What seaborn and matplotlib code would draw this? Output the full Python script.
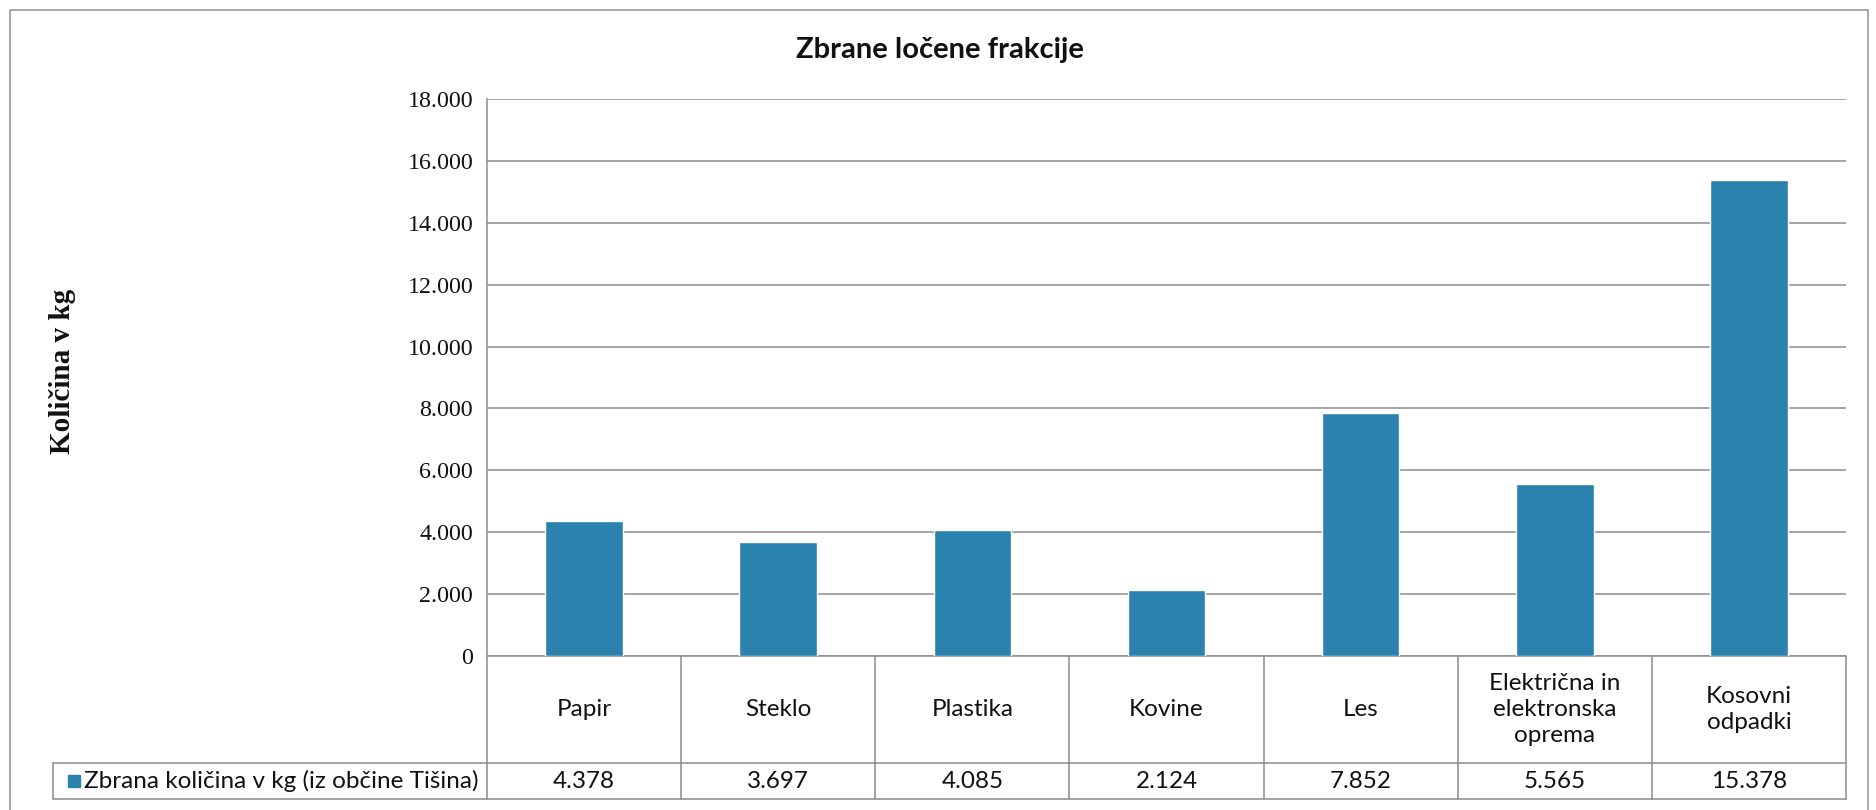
import matplotlib
matplotlib.use("Agg")
import matplotlib.pyplot as plt
import matplotlib.transforms as mtransforms
from matplotlib.patches import Rectangle
import seaborn as sns
import pandas as pd

categories = ["Papir", "Steklo", "Plastika", "Kovine", "Les",
              "Električna in\nelektronska\noprema", "Kosovni\nodpadki"]
values = [4378, 3697, 4085, 2124, 7852, 5565, 15378]
value_labels = ["4.378", "3.697", "4.085", "2.124", "7.852", "5.565", "15.378"]
yticks = [0, 2000, 4000, 6000, 8000, 10000, 12000, 14000, 16000, 18000]
ytick_labels = ["0", "2.000", "4.000", "6.000", "8.000", "10.000", "12.000",
                "14.000", "16.000", "18.000"]
title = "Zbrane ločene frakcije"
ylabel = "Količina v kg"
series_name = "Zbrana količina v kg (iz občine Tišina)"

sns.set_theme(style="white")
plt.rcParams["font.family"] = ["Lato", "DejaVu Sans"]

BAR = "#2b82ae"
GRID = "#8c8c8c"
TXT = "#111111"
TFS = 17.5

W, H = 1876, 810
fig = plt.figure(figsize=(W / 100, H / 100), dpi=100)
fig.patch.set_facecolor("white")

ax_l, ax_r, ax_t, ax_b = 487, 1846, 99, 656
ax = fig.add_axes([ax_l / W, 1 - ax_b / H, (ax_r - ax_l) / W, (ax_b - ax_t) / H])

df = pd.DataFrame({"cat": categories, "val": values})
sns.barplot(data=df, x="cat", y="val", color=BAR, width=0.4, ax=ax,
            saturation=1, zorder=3)
ax.set_xlim(-0.5, len(categories) - 0.5)
ax.set_ylim(0, 18000)
ax.set_yticks(yticks)
ax.set_yticklabels(ytick_labels, family="Liberation Serif", fontsize=17.3,
                   color=TXT)
ax.set_xticks([])
ax.set_xlabel("")
ax.set_ylabel("")
ax.tick_params(axis="y", length=0, pad=10)
ax.yaxis.grid(True, color=GRID, linewidth=1.1, zorder=0)
ax.set_axisbelow(True)
for s in ["top", "right", "bottom"]:
    ax.spines[s].set_visible(False)
ax.spines["left"].set_color(GRID)
ax.spines["left"].set_linewidth(1.1)

# data table below the axes
ax_h = ax_b - ax_t
ax_w = ax_r - ax_l
def ay(px):
    return (ax_b - px) / ax_h
row1_bot = ay(763)
row2_bot = ay(799)
leg_left = (53 - ax_l) / ax_w

blend = mtransforms.blended_transform_factory(ax.transData, ax.transAxes)
lw = 1.1
for i in range(len(categories) + 1):
    ax.plot([i - 0.5, i - 0.5], [0, row2_bot], transform=blend, color=GRID,
            lw=lw, clip_on=False)
for yy in [row1_bot, row2_bot]:
    ax.plot([leg_left, 1], [yy, yy], transform=ax.transAxes, color=GRID,
            lw=lw, clip_on=False)
ax.plot([0, 1], [0, 0], transform=ax.transAxes, color=GRID, lw=lw, clip_on=False)
ax.plot([leg_left, leg_left], [row1_bot, row2_bot], transform=ax.transAxes,
        color=GRID, lw=lw, clip_on=False)

for i, (c, v) in enumerate(zip(categories, value_labels)):
    ax.text(i, (0 + row1_bot) / 2, c, transform=blend, ha="center", va="center",
            fontsize=TFS, linespacing=1.32, color=TXT)
    ax.text(i, (row1_bot + row2_bot) / 2, v, transform=blend, ha="center",
            va="center", fontsize=TFS, color=TXT)

sq = 12
sq_x = (68 - ax_l) / ax_w
sq_y = ay(781 + sq / 2)
ax.add_patch(Rectangle((sq_x, sq_y), sq / ax_w, sq / ax_h, transform=ax.transAxes,
                       color=BAR, clip_on=False))
ax.text((84 - ax_l) / ax_w, (row1_bot + row2_bot) / 2, series_name,
        transform=ax.transAxes, ha="left", va="center", fontsize=TFS, color=TXT)

fig.text(940 / W, 1 - 50 / H, title, ha="center", va="center", fontsize=21,
         fontweight="bold", color=TXT)
fig.text(62 / W, 1 - 371 / H, ylabel, ha="center", va="center", rotation=90,
         fontsize=21, fontweight="bold", family="Liberation Serif", color=TXT)

fig.add_artist(Rectangle((10 / W, -0.02), (1868 - 10) / W, 1 - 10 / H + 0.02,
                         transform=fig.transFigure, fill=False, edgecolor="#9a9a9a",
                         lw=1.2))

fig.savefig("out.png", dpi=100)
